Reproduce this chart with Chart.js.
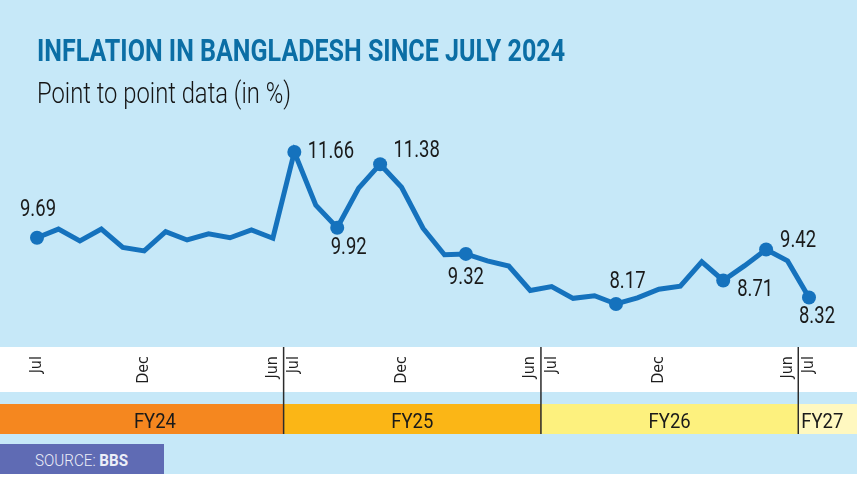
<!DOCTYPE html>
<html><head><meta charset="utf-8">
<script src="https://cdn.jsdelivr.net/npm/chart.js@4.4.1/dist/chart.umd.min.js"></script>
<style>
html,body{margin:0;padding:0;background:#fff;}
#wrap{position:relative;width:857px;height:482px;overflow:hidden;}
canvas{position:absolute;left:0;top:0;}
.txt{position:absolute;white-space:nowrap;line-height:1;transform-origin:0 0;font-family:Roboto,"Noto Sans",sans-serif;}
#title{left:37px;top:34.6px;font-size:31px;font-weight:700;color:#0b6ea5;}
#subtitle{left:37px;top:78px;font-size:30px;font-weight:300;color:#151515;}
#srcbox{position:absolute;left:0;top:444px;width:164px;height:30px;background:#5f6bb4;}
#source{left:35px;top:452.6px;font-size:16px;font-weight:300;color:#eceef8;}
#source b{font-weight:700;}
</style></head>
<body><div id="wrap"><canvas id="c" width="857" height="482"></canvas>
<div id="title" class="txt" data-w="528">INFLATION IN BANGLADESH SINCE JULY 2024</div>
<div id="subtitle" class="txt" data-w="254">Point to point data (in %)</div>
<div id="srcbox"></div>
<div id="source" class="txt" data-w="93">SOURCE: <b>BBS</b></div>
</div>
<script>
// ---- data ----
const categories = [
  'Jul 2023','Aug 2023','Sep 2023','Oct 2023','Nov 2023','Dec 2023','Jan 2024','Feb 2024','Mar 2024','Apr 2024','May 2024','Jun 2024',
  'Jul 2024','Aug 2024','Sep 2024','Oct 2024','Nov 2024','Dec 2024','Jan 2025','Feb 2025','Mar 2025','Apr 2025','May 2025','Jun 2025',
  'Jul 2025','Aug 2025','Sep 2025','Oct 2025','Nov 2025','Dec 2025','Jan 2026','Feb 2026','Mar 2026','Apr 2026','May 2026','Jun 2026',
  'Jul 2026'
];
const inflation = [
  9.69, 9.89, 9.62, 9.89, 9.47, 9.39, 9.83, 9.64, 9.78, 9.69, 9.87, 9.68,
  11.66, 10.44, 9.92, 10.83, 11.38, 10.85, 9.91, 9.30, 9.32, 9.16, 9.04, 8.48,
  8.57, 8.30, 8.36, 8.17, 8.31, 8.51, 8.58, 9.14, 8.71, 9.05, 9.42, 9.16,
  8.32
];
const labelledIdx = [0, 12, 14, 16, 20, 27, 32, 34, 36];
const tickMonths = ['Jul', 'Dec', 'Jun'];
const fiscalYears = ['FY24', 'FY25', 'FY26', 'FY27'];
const fyFirstIdx = [0, 12, 24, 36];
const fyLastIdx = [11, 23, 35, 36];

// ---- styles ----
const BG = '#c6e8f8';
const LINE = '#1572bd';
const FY_COLORS = ['#f5871f', '#fbb616', '#fdf17e', '#fff8c0'];
const NARROW = "'Liberation Sans Narrow', 'DejaVu Sans Condensed', Roboto";
const labelOffsets = {0:[1,-28],12:[36.5,0],14:[11.5,20],16:[36.5,-13],20:[0,24],27:[11.5,-22],32:[32,9.5],34:[32,-9],36:[8,20]};

const backdrop = {
  id: 'backdrop',
  beforeDraw(chart) {
    const ctx = chart.ctx, xs = chart.scales.x, W = chart.width;
    ctx.save();
    ctx.fillStyle = BG; ctx.fillRect(0, 0, W, 474);
    ctx.fillStyle = '#ffffff'; ctx.fillRect(0, 347, W, 45);
    const seps = [];
    for (let k = 1; k < fiscalYears.length; k++) {
      seps.push((xs.getPixelForValue(fyLastIdx[k-1]) + xs.getPixelForValue(fyFirstIdx[k])) / 2);
    }
    for (let k = 0; k < fiscalYears.length; k++) {
      const l = k === 0 ? 0 : seps[k-1];
      const r = k === fiscalYears.length - 1 ? W : seps[k];
      ctx.fillStyle = FY_COLORS[k];
      ctx.fillRect(l, 404, r - l, 30);
    }
    ctx.strokeStyle = '#2b2b2b'; ctx.lineWidth = 1.5;
    seps.forEach(x => { ctx.beginPath(); ctx.moveTo(x, 347); ctx.lineTo(x, 434); ctx.stroke(); });
    ctx.font = '400 21px Roboto';
    ctx.fillStyle = '#1a1a1a';
    ctx.textBaseline = 'alphabetic';
    const sx = 0.88;
    for (let k = 0; k < fiscalYears.length; k++) {
      const t = fiscalYears[k];
      const w = ctx.measureText(t).width * sx;
      let cx = (xs.getPixelForValue(fyFirstIdx[k]) + xs.getPixelForValue(fyLastIdx[k])) / 2;
      const l = k === 0 ? 0 : seps[k-1];
      let left = cx - w / 2;
      if (left < l + 3) left = l + 3;
      ctx.save(); ctx.translate(left, 428); ctx.scale(sx, 1);
      ctx.textAlign = 'left'; ctx.fillText(t, 0, 0); ctx.restore();
    }
    ctx.restore();
  }
};

const valueLabels = {
  id: 'valueLabels',
  afterDatasetsDraw(chart) {
    const ctx = chart.ctx, meta = chart.getDatasetMeta(0);
    ctx.save();
    ctx.font = '400 24px Roboto';
    ctx.fillStyle = '#1a1a1a';
    ctx.textAlign = 'center';
    ctx.textBaseline = 'middle';
    labelledIdx.forEach(i => {
      const p = meta.data[i];
      const off = labelOffsets[i] || [0, -24];
      ctx.save();
      ctx.translate(p.x + off[0], p.y + off[1]);
      ctx.scale(0.77, 1);
      ctx.fillText(inflation[i].toFixed(2), 0, 0);
      ctx.restore();
    });
    ctx.restore();
  }
};

new Chart(document.getElementById('c'), {
  type: 'line',
  data: {
    labels: categories,
    datasets: [{
      data: inflation,
      borderColor: LINE,
      borderWidth: 5,
      tension: 0,
      fill: false,
      clip: false,
      pointRadius: c => labelledIdx.includes(c.dataIndex) ? 7 : 0,
      pointHoverRadius: c => labelledIdx.includes(c.dataIndex) ? 7 : 0,
      pointBackgroundColor: LINE,
      pointBorderWidth: 0
    }]
  },
  options: {
    responsive: false,
    animation: false,
    devicePixelRatio: 1,
    events: [],
    layout: { padding: { left: 37, right: 48, top: 120, bottom: 0 } },
    plugins: { legend: { display: false }, tooltip: { enabled: false }, title: { display: false } },
    scales: {
      x: {
        type: 'category',
        offset: false,
        grid: { display: false, drawTicks: false },
        border: { display: false },
        ticks: {
          autoSkip: false, minRotation: 90, maxRotation: 90, padding: 13,
          color: '#1e1e1e', font: { family: NARROW, size: 16 },
          callback: function (v, i) { const m = categories[i].slice(0, 3); return tickMonths.includes(m) ? m : ''; }
        },
        afterFit: s => { s.height = 139; }
      },
      y: { display: false, min: 7.274, max: 12.395 }
    }
  },
  plugins: [backdrop, valueLabels]
});

document.querySelectorAll('.txt').forEach(el => {
  const w = el.getBoundingClientRect().width;
  el.style.transform = 'scaleX(' + (el.dataset.w / w) + ')';
});
</script>
</body></html>
